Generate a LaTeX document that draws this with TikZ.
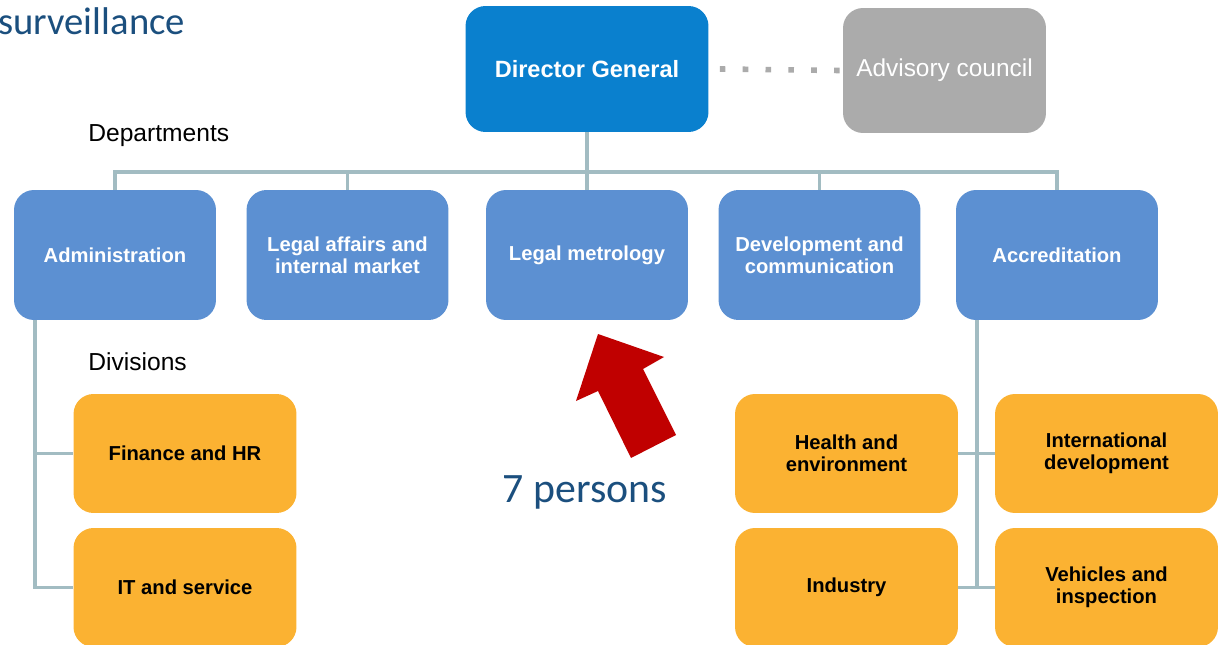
\documentclass[tikz,border=0pt]{standalone}
\usepackage{tikz}
\usepackage{xcolor}
\usepackage{fontspec}
\setmainfont{Liberation Sans}
\newfontfamily\calibri{Carlito}
\definecolor{dgblue}{HTML}{0A80CE}
\definecolor{deptblue}{HTML}{5C90D2}
\definecolor{advgray}{HTML}{ABABAB}
\definecolor{divorange}{HTML}{FBB232}
\definecolor{linkgray}{HTML}{A2BCC2}
\definecolor{arrowred}{HTML}{C00000}
\definecolor{noteblue}{HTML}{1B4F7E}

\begin{document}
\begin{tikzpicture}[x=0.02cm,y=-0.02cm]
\tikzstyle{every node}+=[inner sep=0pt]
\tikzstyle{box}=[rounded corners=0.4cm, align=center, font=\bfseries\fontsize{11.5}{12.5}\selectfont]
\tikzstyle{dept}=[box, fill=deptblue, text=white, minimum width=4.04cm, minimum height=2.6cm]
\tikzstyle{div}=[box, fill=divorange, text=black, minimum width=4.46cm, minimum height=2.38cm]
\tikzstyle{link}=[linkgray, line width=2.2pt]
\tikzstyle{label}=[font=\fontsize{14}{16}\selectfont, anchor=west]
\useasboundingbox (0,0) rectangle (1224,645);
\node [anchor=west, text=noteblue, font=\calibri\fontsize{22}{26}\selectfont] (title) at (-2,21) {surveillance};
\node [box, fill=dgblue, text=white, minimum width=4.86cm, minimum height=2.52cm, font=\bfseries\fontsize{13.4}{15}\selectfont] (dg) at (587,69) {Director General};
\node [box, fill=advgray, text=white, minimum width=4.06cm, minimum height=2.5cm, font=\fontsize{13.9}{15}\selectfont] (adv) at (944.5,70.5) {Advisory council};
\draw [advgray, line width=3.2pt, dash pattern=on 3.2pt off 9.8pt] ([xshift=0.22cm]dg.east) -- ([xshift=-0.04cm]adv.west);
\node [label] (depts) at (88,136) {Departments};
\node [dept] (admin) at (115,255) {Administration};
\node [dept] (legal) at (347.5,255) {Legal affairs and\\internal market};
\node [dept] (metro) at (587,255) {Legal metrology};
\node [dept] (devel) at (819.5,255) {Development and\\communication};
\node [dept] (accr) at (1057,255) {Accreditation};
\coordinate (bus) at (587,172);
\draw [link] (dg.south) -- (bus);
\draw [link] (admin.north) -- (admin.north |- bus) -- (accr.north |- bus) -- (accr.north);
\foreach \d in {legal,metro,devel}
  \draw [link] (\d.north) -- (\d.north |- bus);
\node [label] (divs) at (88,362) {Divisions};
\node [div] (fin) at (185,453.5) {Finance and HR};
\node [div] (it) at (185,587.5) {IT and service};
\node [div] (health) at (846.5,453.5) {Health and\\environment};
\node [div] (intl) at (1106.5,453.5) {International\\development};
\node [div] (indu) at (846.5,587.5) {Industry};
\node [div] (vehi) at (1106.5,587.5) {Vehicles and\\inspection};
\coordinate (ltop) at (35,320);
\draw [link] (ltop) |- (it.west);
\draw [link] (ltop |- fin.west) -- (fin.west);
\coordinate (rtop) at (977,320);
\draw [link] (rtop) -- (rtop |- indu.east);
\draw [link] (health.east) -- (intl.west);
\draw [link] (indu.east) -- (vehi.west);
\fill [arrowred] (598,334) -- (664,357) -- (643,369) -- (676,435) -- (631,458) -- (598,391) -- (576,401) -- cycle;
\node [text=noteblue, font=\calibri\fontsize{23.8}{28}\selectfont] (persons) at (585,492) {7 persons};
\end{tikzpicture}
\end{document}
